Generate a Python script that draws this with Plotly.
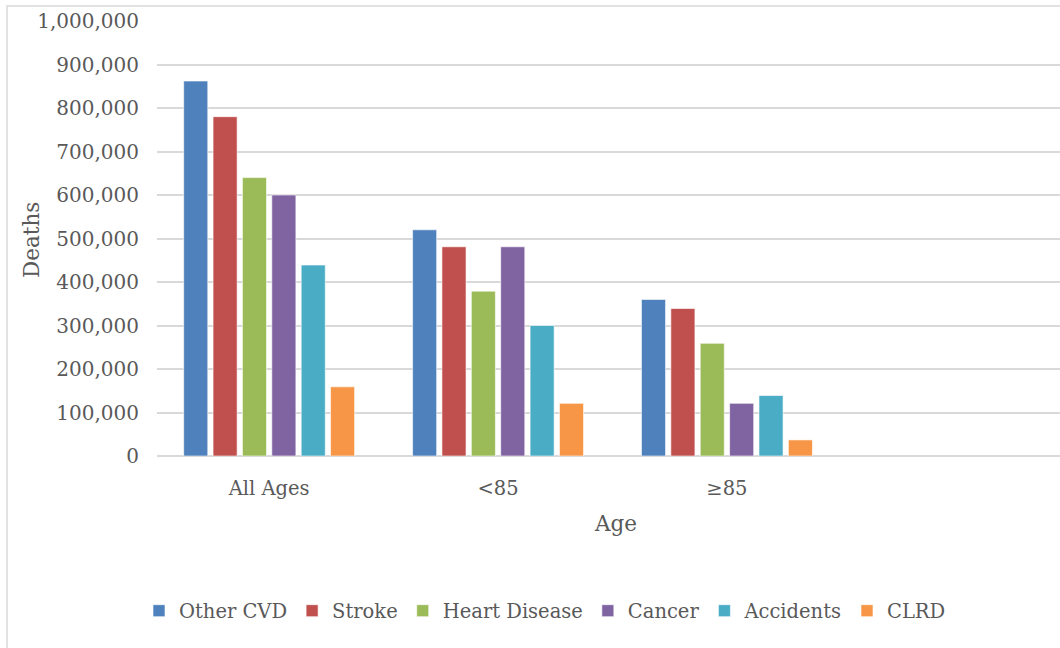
import plotly.graph_objects as go

categories = ["All Ages", "<85", "\u226585", " "]
series_names = ["Other CVD", "Stroke", "Heart Disease", "Cancer", "Accidents", "CLRD"]
other_cvd = [862000, 520000, 360000]
stroke = [780000, 481000, 339000]
heart_disease = [640000, 379000, 259000]
cancer = [600000, 481000, 121000]
accidents = [439000, 300000, 139000]
clrd = [159000, 121000, 37000]
colors = ["#4F81BD", "#C0504D", "#9BBB59", "#8064A2", "#4BACC6", "#F79646"]
y_ticks = [0, 100000, 200000, 300000, 400000, 500000, 600000, 700000, 800000, 900000, 1000000]

values = [other_cvd, stroke, heart_disease, cancer, accidents, clrd]

FONT = "DejaVu Serif"
TXT = "#595959"
W, H = 1060, 648
L, T, B = 157, 21, 192
pw = W - L
ph = H - T - B

fig = go.Figure()
for name, vals, col in zip(series_names, values, colors):
    fig.add_trace(go.Bar(
        name=name, x=categories[:len(vals)], y=vals,
        marker=dict(color=col, line=dict(color="rgba(255,255,255,0.6)", width=1)),
    ))

def px_x(px):
    return (px - L) / pw

def px_y(py):
    return (H - B - py) / ph

fig.update_layout(
    width=W, height=H,
    margin=dict(l=L, r=0, t=T, b=B, autoexpand=False),
    paper_bgcolor="white", plot_bgcolor="white",
    barmode="group", bargap=0.23, bargroupgap=0.18,
    font=dict(family=FONT, color=TXT, size=20),
    showlegend=True,
    legend=dict(
        orientation="h", x=px_x(545), xanchor="center", y=px_y(611), yanchor="middle",
        font=dict(family=FONT, color=TXT, size=19.5), itemwidth=30, traceorder="normal",
        bgcolor="rgba(0,0,0,0)",
    ),
    xaxis=dict(
        type="category", categoryorder="array", categoryarray=categories,
        range=[-0.49, 3.455], showgrid=False, zeroline=False, showline=False,
        ticks="outside", ticklen=15, tickcolor="rgba(0,0,0,0)",
        tickfont=dict(family=FONT, color=TXT, size=19.5), automargin=False,
    ),
    yaxis=dict(
        range=[0, 1000000], tickvals=y_ticks, tickformat=",d",
        showgrid=True, gridcolor="#D9D9D9", gridwidth=1.5,
        zeroline=True, zerolinecolor="#D9D9D9", zerolinewidth=1.5,
        showline=False, ticks="outside", ticklen=13, tickcolor="rgba(0,0,0,0)",
        tickfont=dict(family=FONT, color=TXT, size=20), automargin=False,
    ),
    annotations=[
        dict(text="Deaths", xref="paper", yref="paper", x=px_x(31), y=px_y(240),
             xanchor="center", yanchor="middle", textangle=-90, showarrow=False,
             font=dict(family=FONT, color=TXT, size=21.5)),
        dict(text="Age", xref="paper", yref="paper", x=px_x(615), y=px_y(523),
             xanchor="center", yanchor="middle", showarrow=False,
             font=dict(family=FONT, color=TXT, size=21.5)),
    ],
    shapes=[
        dict(type="rect", xref="paper", yref="paper", x0=px_x(7), x1=px_x(1080),
             y0=px_y(700), y1=px_y(6), line=dict(color="#D9D9D9", width=1.5),
             fillcolor="rgba(0,0,0,0)", layer="below"),
    ],
)

fig.write_html(
    "out.html",
    config={"displayModeBar": False},
    post_script="document.body.style.margin='0';document.body.style.overflow='hidden';",
)
